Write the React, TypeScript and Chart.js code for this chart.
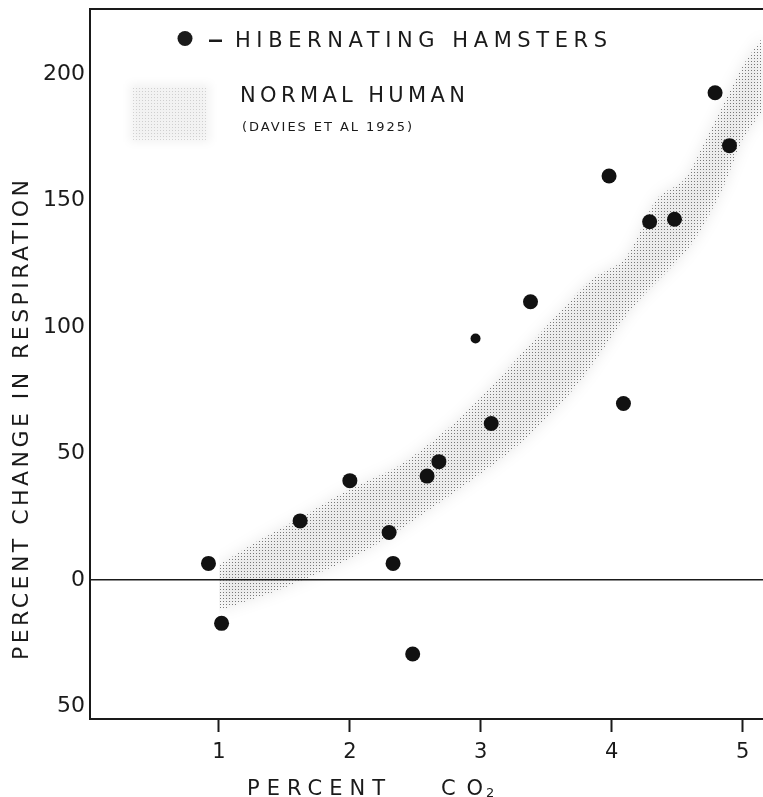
import React, { useEffect, useRef } from 'react';
import { Chart, registerables } from 'chart.js';

// ---- data ----
const hamsterCO2 = [0.92, 1.02, 1.62, 2.0, 2.3, 2.33, 2.48, 2.59, 2.68, 3.08, 3.38, 3.98, 4.09, 4.29, 4.48, 4.79, 4.9];
const hamsterResp = [6.6, -17.1, 23.4, 39.3, 18.8, 6.6, -29.2, 41.1, 46.8, 61.9, 110, 159.7, 69.8, 141.6, 142.6, 192.6, 171.7];
const smallHamsterCO2 = [2.96];
const smallHamsterResp = [95.5];
const humanUpperCO2 = [1.0, 1.25, 1.6, 2.0, 2.4, 2.9, 3.55, 3.85, 4.1, 4.35, 4.55, 4.7, 5.0, 5.16];
const humanUpperResp = [6, 14, 24, 36, 46, 67, 103, 119, 127, 151, 158, 172, 203, 215];
const humanLowerCO2 = [1.0, 1.5, 2.1, 2.5, 3.3, 3.75, 4.15, 4.6, 4.85, 5.0, 5.16];
const humanLowerResp = [-12, -3, 11, 24, 54, 78, 107, 132, 155, 174, 186];
const xTickValues = [1, 2, 3, 4, 5];
const yTickValues = [-50, 0, 50, 100, 150, 200];
const xRange = [0.015, 5.156];
const yRange = [-54.9, 225.7];

const legendHamsters = 'HIBERNATING HAMSTERS';
const legendHuman = 'NORMAL HUMAN';
const legendSource = '(DAVIES ET AL 1925)';
const yTitle = 'PERCENT CHANGE IN RESPIRATION';
const xTitleWord = 'PERCENT';
const xTitleGas = 'CO';
const xTitleSub = '2';

const FONT = "'DejaVu Sans', sans-serif";
const INK = '#1a1a1a';

const toXY = (xs: number[], ys: number[]) => xs.map((x, i) => ({ x, y: ys[i] }));

// halo plugin: registered before the built-ins so it wraps the filler's drawing
const haloPlugin = {
  id: 'bandHalo',
  beforeDatasetDraw(chart: any, args: any) {
    const ds = chart.data.datasets[args.index];
    if (ds && ds.halo) {
      chart.ctx.save();
      chart.ctx.filter = 'blur(7px)';
    }
  },
  afterDatasetDraw(chart: any, args: any) {
    const ds = chart.data.datasets[args.index];
    if (ds && ds.halo) {
      chart.ctx.restore();
    }
  },
};
Chart.register(haloPlugin as any);
Chart.register(...registerables);

function drawFit(ctx: CanvasRenderingContext2D, text: string, x: number, width: number, baseline: number, size: number) {
  ctx.font = `${size}px ${FONT}`;
  (ctx as any).letterSpacing = '0px';
  const w = ctx.measureText(text).width;
  const n = text.length;
  const sp = n > 1 ? (width - w) / (n - 1) : 0;
  (ctx as any).letterSpacing = `${sp}px`;
  ctx.textAlign = 'left';
  ctx.textBaseline = 'alphabetic';
  ctx.fillText(text, x, baseline);
  (ctx as any).letterSpacing = '0px';
}

function makeStipple(ctx: CanvasRenderingContext2D, color: string) {
  const c = document.createElement('canvas');
  c.width = 3;
  c.height = 3;
  const g = c.getContext('2d')!;
  g.fillStyle = color;
  g.fillRect(1, 1, 1, 1);
  return ctx.createPattern(c, 'repeat')!;
}

const zeroPadding = (s: any) => {
  s.paddingTop = 0;
  s.paddingBottom = 0;
  s.paddingLeft = 0;
  s.paddingRight = 0;
};

const decorPlugin = {
  id: 'decor',
  afterDraw(chart: any) {
    const ctx: CanvasRenderingContext2D = chart.ctx;
    const a = chart.chartArea;
    ctx.save();
    // top frame line
    ctx.strokeStyle = INK;
    ctx.lineWidth = 2;
    ctx.beginPath();
    ctx.moveTo(a.left - 1, a.top);
    ctx.lineTo(a.right, a.top);
    ctx.stroke();

    ctx.fillStyle = INK;
    // legend: hamsters
    ctx.beginPath();
    ctx.arc(185, 38.5, 7.5, 0, Math.PI * 2);
    ctx.fill();
    ctx.fillRect(209, 39.5, 13, 2.5);
    drawFit(ctx, legendHamsters, 235, 372, 47, 21);

    // legend: normal human swatch
    ctx.save();
    ctx.filter = 'blur(4px)';
    ctx.fillStyle = 'rgba(0,0,0,0.05)';
    ctx.fillRect(130, 84, 80, 58);
    ctx.restore();
    ctx.save();
    ctx.globalAlpha = 0.22;
    ctx.fillStyle = makeStipple(ctx, '#555');
    ctx.fillRect(132, 86, 76, 54);
    ctx.restore();

    ctx.fillStyle = INK;
    drawFit(ctx, legendHuman, 240, 225, 101.5, 21);
    drawFit(ctx, legendSource, 242, 170, 131, 13);

    // y title
    ctx.save();
    ctx.translate(28, 660);
    ctx.rotate(-Math.PI / 2);
    drawFit(ctx, yTitle, 0, 480, 0, 22);
    ctx.restore();

    // x title
    drawFit(ctx, xTitleWord, 247, 138, 795, 21);
    drawFit(ctx, xTitleGas, 441, 42, 795, 21);
    drawFit(ctx, xTitleSub, 486, 9, 797, 13);
    ctx.restore();
  },
};

export default function App() {
  const ref = useRef<HTMLCanvasElement>(null);
  useEffect(() => {
    const canvas = ref.current!;
    const ctx = canvas.getContext('2d')!;
    const stipple = makeStipple(ctx, 'rgba(90,90,90,0.8)');
    const chart = new Chart(canvas, {
      type: 'line',
      data: {
        datasets: [
          {
            label: 'Hibernating hamsters',
            data: toXY(hamsterCO2, hamsterResp),
            showLine: false,
            pointRadius: 7.5,
            pointBackgroundColor: '#111',
            pointBorderWidth: 0,
            pointBorderColor: '#111',
          },
          {
            label: 'Hibernating hamsters (small)',
            data: toXY(smallHamsterCO2, smallHamsterResp),
            showLine: false,
            pointRadius: 5,
            pointBackgroundColor: '#111',
            pointBorderWidth: 0,
          },
          {
            label: 'Normal human upper',
            data: toXY(humanUpperCO2, humanUpperResp),
            showLine: true,
            borderWidth: 0,
            borderColor: 'rgba(0,0,0,0)',
            pointRadius: 0,
            tension: 0.3,
            fill: '+1',
            backgroundColor: stipple,
          },
          {
            label: 'Normal human lower',
            data: toXY(humanLowerCO2, humanLowerResp),
            showLine: true,
            borderWidth: 0,
            borderColor: 'rgba(0,0,0,0)',
            pointRadius: 0,
            tension: 0.3,
            fill: false,
          },
          {
            label: 'halo upper',
            halo: true,
            data: toXY(humanUpperCO2, humanUpperResp),
            showLine: true,
            borderWidth: 0,
            borderColor: 'rgba(0,0,0,0)',
            pointRadius: 0,
            tension: 0.3,
            fill: '+1',
            backgroundColor: 'rgba(0,0,0,0.08)',
          },
          {
            label: 'halo lower',
            data: toXY(humanLowerCO2, humanLowerResp),
            showLine: true,
            borderWidth: 0,
            borderColor: 'rgba(0,0,0,0)',
            pointRadius: 0,
            tension: 0.3,
            fill: false,
          },
        ] as any,
      },
      options: {
        animation: false,
        responsive: false,
        devicePixelRatio: 1,
        layout: { autoPadding: false, padding: { top: 9, left: 0, right: 0, bottom: 0 } },
        plugins: { legend: { display: false }, tooltip: { enabled: false } },
        scales: {
          x: {
            type: 'linear',
            min: xRange[0],
            max: xRange[1],
            afterFit: (s: any) => { s.height = 78; zeroPadding(s); },
            afterBuildTicks: (s: any) => { s.ticks = xTickValues.map((v) => ({ value: v })); },
            border: { display: true, color: INK, width: 2 },
            grid: { display: true, drawOnChartArea: false, drawTicks: true, tickLength: 13, tickWidth: 2, tickColor: INK },
            ticks: {
              color: INK,
              padding: 8,
              font: { family: FONT, size: 21 },
              maxRotation: 0,
              autoSkip: false,
              callback: (v: any) => String(v),
            },
          },
          y: {
            type: 'linear',
            min: yRange[0],
            max: yRange[1],
            afterFit: (s: any) => { s.width = 90; zeroPadding(s); },
            afterBuildTicks: (s: any) => { s.ticks = yTickValues.map((v) => ({ value: v })); },
            border: { display: true, color: INK, width: 2 },
            grid: {
              display: true,
              drawTicks: false,
              lineWidth: 1.5,
              color: (c: any) => (c.tick && c.tick.value === 0 ? INK : 'rgba(0,0,0,0)'),
            },
            ticks: {
              color: INK,
              padding: 5,
              font: { family: FONT, size: 22 },
              autoSkip: false,
              callback: (v: any) => String(Math.abs(Number(v))),
            },
          },
        },
      } as any,
      plugins: [decorPlugin as any],
    });
    return () => chart.destroy();
  }, []);
  return (
    <div style={{ position: 'fixed', left: 0, top: 0, width: 763, height: 797, background: '#fff' }}>
      <canvas ref={ref} width={763} height={797} style={{ width: 763, height: 797, display: 'block' }} />
    </div>
  );
}
